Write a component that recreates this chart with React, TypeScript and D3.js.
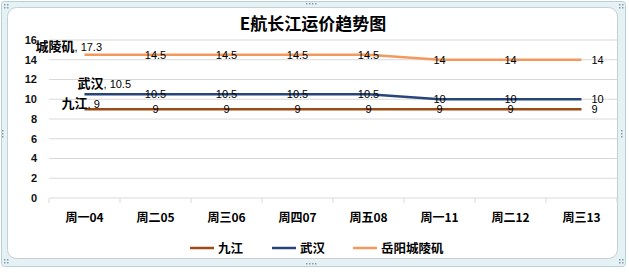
import React from "react";
import * as d3 from "d3";

const categories = ["周一04", "周二05", "周三06", "周四07", "周五08", "周一11", "周二12", "周三13"];
const seriesNames = ["九江", "武汉", "岳阳城陵矶"];
const jiujiang = [9, 9, 9, 9, 9, 9, 9, 9];
const wuhan = [10.5, 10.5, 10.5, 10.5, 10.5, 10, 10, 10];
const yueyang = [14.5, 14.5, 14.5, 14.5, 14.5, 14, 14, 14];
const firstLabelNames = ["九江", "武汉", "城陵矶"];
const firstLabelValues = ["9", "10.5", "17.3"];
const yTicks = [0, 2, 4, 6, 8, 10, 12, 14, 16];
const title = "E航长江运价趋势图";

const colors = ["#9c4a16", "#27457a", "#f4995e"];
const firstLabelOffsets = [
  { dx: -23, dy: -7 },
  { dx: -7, dy: -12 },
  { dx: -49, dy: -10 },
];

export default function App() {
  const W = 629, H = 273;
  const x = d3.scaleBand<string>().domain(categories).range([49, 617]);
  const y = d3.scaleLinear().domain([0, 16]).range([198, 40]);
  const cx = (c: string) => (x(c) as number) + x.bandwidth() / 2;
  const data = [jiujiang, wuhan, yueyang];
  const line = d3
    .line<number>()
    .x((_, i) => cx(categories[i]))
    .y((d) => y(d));
  const boundaries = categories.map((c) => x(c) as number).concat([617]);
  const labelFont = "'Liberation Sans', Arial, sans-serif";
  const cjk = "'Noto Sans CJK SC', sans-serif";

  const dots = (x0: number, y0: number, n: number, horiz: boolean) =>
    d3.range(n).map((i) => (
      <rect key={`${x0}-${y0}-${i}`} x={horiz ? x0 + i * 3 : x0} y={horiz ? y0 : y0 + i * 3} width={1.5} height={1.5} fill="#8a9aa0" />
    ));

  const legendX = [190, 272, 353];

  return (
    <svg width={W} height={H} style={{ position: "absolute", left: 0, top: 0, background: "#fff" }}>
      <rect x={1.5} y={1.5} width={624} height={265} rx={3} fill="#e4f2f5" stroke="#b9d0d6" />
      <rect x={7.5} y={7.5} width={610} height={251} rx={9} fill="#ffffff" stroke="#c6cfd2" />
      {dots(306, 3, 4, true)}
      {dots(306, 263, 4, true)}
      {dots(2, 130, 3, false)}
      {dots(621, 130, 3, false)}
      {dots(4, 4, 2, true)}
      {dots(4, 7, 2, true)}
      {dots(619, 4, 2, true)}
      {dots(619, 7, 2, true)}
      {dots(4, 259, 2, true)}
      {dots(4, 262, 2, true)}
      {dots(619, 259, 2, true)}
      {dots(619, 262, 2, true)}

      <text x={313} y={30} textAnchor="middle" fontFamily={cjk} fontWeight="bold" fontSize={17} fill="#000">
        {title}
      </text>

      {yTicks.map((t) => (
        <g key={t}>
          <line x1={49} x2={617} y1={y(t)} y2={y(t)} stroke="#d9d9d9" strokeWidth={1} />
          <text x={37} y={y(t)} dy="0.35em" textAnchor="end" fontFamily={labelFont} fontWeight="bold" fontSize={11} fill="#111">
            {t}
          </text>
        </g>
      ))}
      {boundaries.map((b, i) => (
        <line key={i} x1={b} x2={b} y1={198} y2={203} stroke="#d9d9d9" />
      ))}
      {categories.map((c) => (
        <text key={c} x={cx(c)} y={222} textAnchor="middle" fontFamily={cjk} fontWeight="bold" fontSize={12} fill="#000">
          {c}
        </text>
      ))}

      {data.map((s, si) => (
        <path key={si} d={line(s) as string} fill="none" stroke={colors[si]} strokeWidth={2.5} />
      ))}

      {data.map((s, si) =>
        s.map((v, i) => {
          if (i === 0) return null;
          const last = i === s.length - 1;
          return (
            <text
              key={`${si}-${i}`}
              x={cx(categories[i]) + (last ? 10 : 0)}
              y={y(v)}
              dy="0.36em"
              textAnchor={last ? "start" : "middle"}
              fontFamily={labelFont}
              fontSize={11}
              fill="#000"
            >
              {v}
            </text>
          );
        })
      )}
      {data.map((s, si) => (
        <text
          key={`first-${si}`}
          x={cx(categories[0]) + firstLabelOffsets[si].dx}
          y={y(s[0]) + firstLabelOffsets[si].dy}
          dy="0.36em"
          fill="#000"
        >
          <tspan fontFamily={cjk} fontWeight="bold" fontSize={13}>{firstLabelNames[si]}</tspan>
          <tspan fontFamily={labelFont} fontSize={11}>{", " + firstLabelValues[si]}</tspan>
        </text>
      ))}

      {seriesNames.map((n, i) => (
        <g key={n}>
          <line x1={legendX[i]} x2={legendX[i] + 24} y1={248} y2={248} stroke={colors[i]} strokeWidth={2.5} />
          <text x={legendX[i] + 28} y={248} dy="0.36em" fontFamily={cjk} fontWeight="bold" fontSize={12.5} fill="#000">
            {n}
          </text>
        </g>
      ))}
    </svg>
  );
}
